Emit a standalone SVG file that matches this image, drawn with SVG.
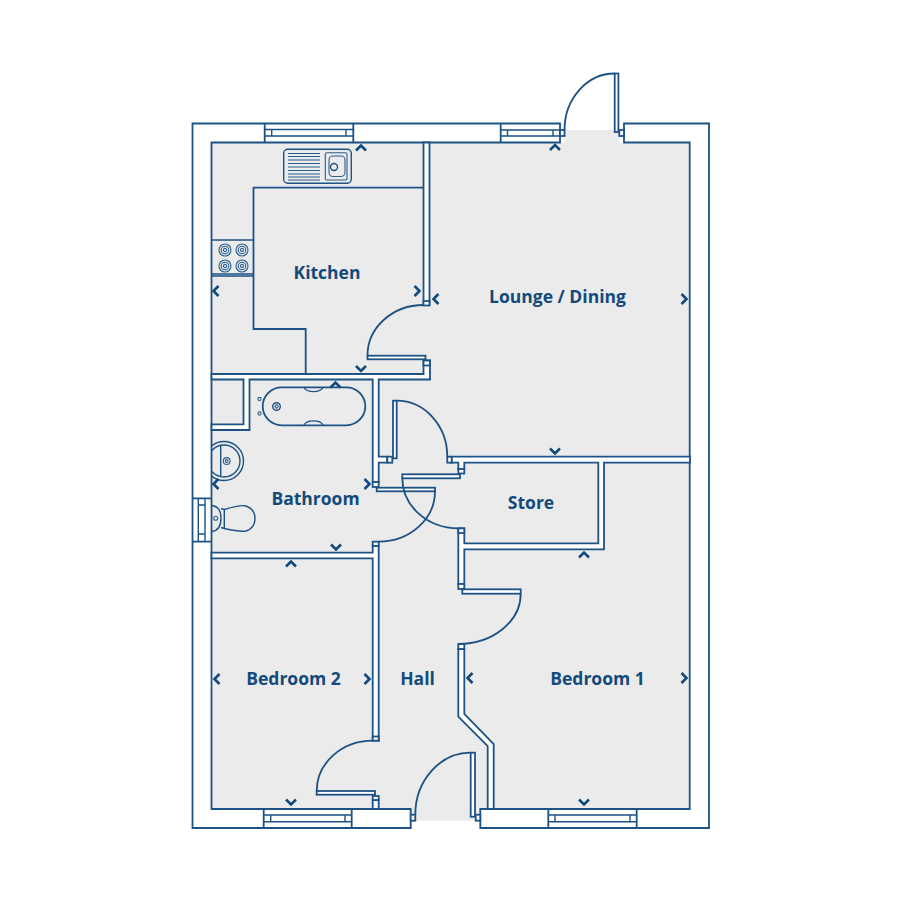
<svg xmlns="http://www.w3.org/2000/svg" width="900" height="900" viewBox="0 0 900 900">
<defs>
<style>
.w{fill:#fff;stroke:#1d5285;stroke-width:1.8;stroke-linejoin:miter}
.l{fill:none;stroke:#1d5285;stroke-width:1.8}
.t{fill:none;stroke:#1d5285;stroke-width:1.4}
.b{fill:none;stroke:#2a5f92;stroke-width:1.1}
.c{fill:none;stroke:#114a7c;stroke-width:2.6}
text{font-family:"Open Sans","Noto Sans",sans-serif;font-weight:700;font-size:17.5px;fill:#134a7c;text-anchor:middle}
</style>
<path id="up" class="c" d="M-5 2.500L0 -2.500L5 2.500"/>
<path id="dn" class="c" d="M-5 -2.500L0 2.500L5 -2.500"/>
<path id="lf" class="c" d="M2.500 -5L-2.500 0L2.500 5"/>
<path id="rt" class="c" d="M-2.500 -5L2.500 0L-2.500 5"/>
<g id="burner"><circle class="b" r="6"/><circle class="b" r="3.8"/><circle class="b" r="1.6"/></g>
<clipPath id="roomclip"><rect x="211.5" y="430" width="170" height="130"/></clipPath>
</defs>
<rect width="900" height="900" fill="#fff"/>
<rect x="211.5" y="142.5" width="478" height="666.5" fill="#ebebeb"/>
<rect x="564.500" y="130" width="55" height="13" fill="#ebebeb"/>
<rect x="410.700" y="808" width="70" height="12.700" fill="#ebebeb"/>

<g id="walls">
<path class="w" d="M560 123.500H192.500V828H410.700V809H211.500V142.500H560Z"/>
<path class="w" d="M624 123.500H709V828H480.300V809H689.700V142.500H624Z"/>
<path class="w" d="M423.500 142.500H429.500V305H423.500Z"/>
<path class="w" d="M211.500 374H423.500V360.500H430V379.500H378.700V456.700H387.300V462.700H378.700V482H372.700V379.500H249.500V430H211.500V424.300H243.500V379.500H211.500Z"/>
<path class="w" d="M451.500 456.700H690V462.700H604V549.300H464.300V584H458.300V528.300H464.300V543.300H598.300V462.700H464.300V469H458.300V462.700H451.500Z"/>
<path class="w" d="M211.500 552.700H372.700V546H378.700V740.700H372.700V558.300H211.500Z"/>
<path class="w" d="M372.700 800H378.700V809H372.700Z"/>
<path class="w" d="M458.300 649H464.300V714L493.700 744V809H487.700V746L458.300 716.700Z"/>
<path class="l" d="M423.500 187.700H253.500V329H305.700V374"/>
</g>

<g id="windows">
<g id="window-kitchen"><path class="l" d="M264.700 123.500V142.500M353.300 123.500V142.500"/><path class="t" d="M264.700 129.500H353.300M264.700 136H353.300M271.700 129.500V136M346 129.500V136"/></g>
<g id="window-lounge"><path class="l" d="M500.700 123.500V142.500"/><path class="t" d="M500.700 130H560M500.700 136H560M507.500 130V136M553 130V136"/></g>
<g id="window-bed2"><path class="l" d="M263.700 809V828M351.700 809V828"/><path class="t" d="M263.700 815H351.700M263.700 821.700H351.700M270.700 815V821.700M345 815V821.700"/></g>
<g id="window-bed1"><path class="l" d="M548.300 809V828M636.700 809V828"/><path class="t" d="M548.300 815H636.700M548.300 821.700H636.700M555 815V821.700M630 815V821.700"/></g>
<g id="window-bath"><path class="l" d="M192.500 498.300H211.500M192.500 541.700H211.500"/><path class="t" d="M198.300 498.300V541.700M205 498.300V541.700M198.300 505H205M198.300 534H205"/></g>
</g>

<g id="doors">
<g id="door-patio"><rect class="w" x="560" y="130" width="4.500" height="6"/><rect class="w" x="619.300" y="130" width="4.700" height="6"/><rect class="w" x="614.700" y="73.500" width="3.700" height="58.500"/><path class="l" d="M564.500 130A50.200 56.500 0 0 1 614.700 73.500"/></g>
<g id="door-kitchen"><rect class="w" x="423.500" y="301" width="6" height="4.500"/><rect class="w" x="423.500" y="360.500" width="6.500" height="5"/><rect class="w" x="367.500" y="355.700" width="58" height="3.600"/><path class="l" d="M423.500 305A56 50.500 0 0 0 367.500 355.500"/></g>
<g id="door-bath"><rect class="w" x="387.300" y="456.700" width="5" height="6"/><rect class="w" x="447.300" y="456.700" width="4.400" height="6"/><rect class="w" x="393" y="400.700" width="3.700" height="57.600"/><path class="l" d="M396.700 400.700A50.600 56 0 0 1 447.300 456.700"/></g>
<g id="door-bathroom"><rect class="w" x="372.700" y="482" width="6" height="5"/><rect class="w" x="372.700" y="541.700" width="6" height="4.300"/><rect class="w" x="376.700" y="487.700" width="58.300" height="3.600"/><path class="l" d="M435 491.300A56.300 50.400 0 0 1 378.700 541.700"/></g>
<g id="door-store"><rect class="w" x="458.300" y="469" width="6" height="4.500"/><rect class="w" x="458.300" y="528.300" width="6" height="4.700"/><rect class="w" x="402.300" y="474.300" width="57.700" height="4"/><path class="l" d="M402.300 478.300A56 50 0 0 0 458.300 528.300"/></g>
<g id="door-bed1"><rect class="w" x="458.300" y="584" width="6" height="5"/><rect class="w" x="458.300" y="644" width="6" height="5"/><rect class="w" x="462.300" y="589.300" width="58.400" height="4.400"/><path class="l" d="M520.700 593.700A62.400 50.300 0 0 1 458.300 644"/></g>
<g id="door-bed2"><rect class="w" x="372.700" y="736.500" width="6" height="4.200"/><rect class="w" x="372.700" y="796" width="6" height="4"/><rect class="w" x="316.700" y="791" width="58.300" height="3.700"/><path class="l" d="M372.700 740.700A56 50.300 0 0 0 316.700 791"/></g>
<g id="door-front"><rect class="w" x="410.700" y="814.700" width="4.600" height="6"/><rect class="w" x="475.700" y="814.700" width="4.600" height="6"/><rect class="w" x="470.700" y="752.700" width="4.300" height="64"/><path class="l" d="M415.300 814.700A55.400 62 0 0 1 470.700 752.700"/></g>
</g>

<g id="fittings">
<g id="sink">
<rect class="t" x="283.700" y="149.300" width="67.600" height="34" rx="4"/>
<path class="b" d="M288 153.500H320M288 156.500H320M288 160H320M288 163.500H320M288 167H320M288 170.500H320M288 174H320M288 177H320M288 180H320"/>
<rect class="b" x="325.300" y="152.700" width="21.700" height="27.300" rx="1.500"/>
<rect class="b" x="329" y="156" width="16" height="20.500" rx="4"/>
<circle class="t" cx="334" cy="167" r="3.500"/>
</g>
<g id="hob">
<path class="t" d="M211.500 240H253.500M211.500 274H253.500M211.500 276H253.500"/>
<use href="#burner" x="225" y="250"/><use href="#burner" x="242" y="250"/><use href="#burner" x="225" y="266"/><use href="#burner" x="242" y="266"/>
</g>
<g id="bath">
<rect class="l" x="262.700" y="387.300" width="102.600" height="38" rx="19"/>
<path class="t" d="M304 387.500A10 6 0 0 0 323 387.500M304 425A10 6 0 0 1 323 425"/>
<circle class="b" cx="259.500" cy="399" r="1.600"/><circle class="b" cx="259.500" cy="413.500" r="1.600"/>
<circle class="t" cx="276.500" cy="406.500" r="3.800"/><circle class="b" cx="276.500" cy="406.500" r="1.600"/>
</g>
<g id="basin" clip-path="url(#roomclip)">
<circle class="t" cx="224" cy="461" r="19.500"/><circle class="t" cx="224" cy="461" r="16"/>
<path class="t" d="M220.700 445V477"/>
<circle class="b" cx="226.700" cy="461" r="3.400"/><circle class="b" cx="226.700" cy="461" r="1.400"/>
</g>
<g id="wc">
<path class="t" d="M211.500 505.500C217 506 221 510 221 518.300C221 527 217 531 211.500 531.700"/>
<path class="t" d="M221 508.500L224.300 509.500V528.500L221 527.500M224.300 509.500C234 506.500 243 505 246 506C252 508 255 513 255 518.500C255 524 252 529 246 531C241 532 233 530.500 224.300 528.500"/>
<circle class="b" cx="215.700" cy="518.300" r="2"/>
</g>
</g>

<g id="markers">
<use href="#up" x="361" y="148"/><use href="#lf" x="216" y="291"/><use href="#rt" x="417" y="291"/><use href="#lf" x="436" y="299"/><use href="#rt" x="684" y="299"/><use href="#up" x="555" y="147.500"/><use href="#dn" x="361" y="368.500"/><use href="#dn" x="555" y="451"/><use href="#up" x="335.500" y="385"/><use href="#lf" x="216" y="484"/><use href="#rt" x="367" y="484"/><use href="#dn" x="336" y="547"/><use href="#up" x="291" y="564"/><use href="#lf" x="217" y="679"/><use href="#rt" x="367" y="679"/><use href="#dn" x="291" y="802"/><use href="#lf" x="470" y="678"/><use href="#rt" x="684" y="678"/><use href="#up" x="584" y="555"/><use href="#dn" x="584" y="802"/>
</g>

<g id="labels">
<text x="327" y="279">Kitchen</text>
<text x="557.500" y="303">Lounge / Dining</text>
<text x="315.500" y="505">Bathroom</text>
<text x="531" y="509">Store</text>
<text x="293.500" y="685">Bedroom 2</text>
<text x="417.500" y="685">Hall</text>
<text x="597.500" y="685">Bedroom 1</text>
</g>
</svg>
